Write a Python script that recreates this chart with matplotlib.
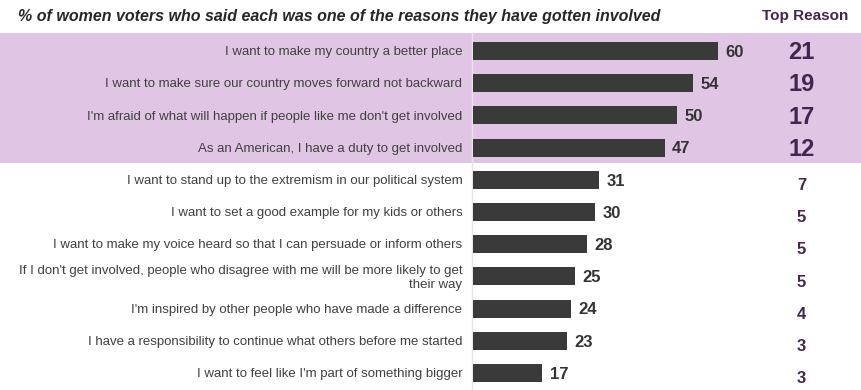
import matplotlib
matplotlib.use('Agg')
import matplotlib.pyplot as plt

plt.rcParams['font.family'] = ['Liberation Sans', 'DejaVu Sans']

reasons = [
    "I want to make my country a better place",
    "I want to make sure our country moves forward not backward",
    "I'm afraid of what will happen if people like me don't get involved",
    "As an American, I have a duty to get involved",
    "I want to stand up to the extremism in our political system",
    "I want to set a good example for my kids or others",
    "I want to make my voice heard so that I can persuade or inform others",
    "If I don't get involved, people who disagree with me will be more likely to get\ntheir way",
    "I'm inspired by other people who have made a difference",
    "I have a responsibility to continue what others before me started",
    "I want to feel like I'm part of something bigger",
]
pct_any = [60, 54, 50, 47, 31, 30, 28, 25, 24, 23, 17]
pct_top = [21, 19, 17, 12, 7, 5, 5, 5, 4, 3, 3]
n_highlight = 4

BAR = '#3a3a3a'
BAND = '#e0c6e4'
PURPLE = '#43264d'
TXT = '#404040'

W, H = 861, 390
fig = plt.figure(figsize=(W / 100, H / 100), dpi=100)

# pixel geometry of the layout
x0_px, px_per_unit = 473, 4.08
row0_px, row_step = 51, 32.2
ax = fig.add_axes([0, 0, 1, 1])
ax.set_xlim(-x0_px / px_per_unit, (W - x0_px) / px_per_unit)
ax.set_ylim((H - row0_px) / row_step, -row0_px / row_step)
ax.axis('off')

rows = list(range(len(reasons)))
band_top = -0.56
ax.axhspan(band_top, n_highlight - 0.52, color=BAND, zorder=0, lw=0)
ax.plot([-0.3, -0.3], [band_top, ax.get_ylim()[0]], color='#e6e6e6', lw=1, zorder=1)

ax.barh(rows, pct_any, height=0.56, color=BAR, zorder=2)

for i, (lab, v, t) in enumerate(zip(reasons, pct_any, pct_top)):
    ax.text(-2.6, i + 0.04, lab, ha='right', va='center', fontsize=9.5, color=TXT,
            linespacing=1.2)
    ax.text(v + 1.8, i + 0.04, str(v), ha='left', va='center', fontsize=12,
            fontweight='bold', color='#333333')
    big = i < n_highlight
    ax.text(80.5, i + (0.05 if big else 0.18), str(t), ha='center', va='center',
            fontsize=17 if big else 12, fontweight='bold', color=PURPLE)

fig.text(18 / W, 1 - 16 / H,
         "% of women voters who said each was one of the reasons they have gotten involved",
         ha='left', va='center', fontsize=11.5, fontweight='bold', style='italic',
         color='#262626')
fig.text(805 / W, 1 - 16 / H, "Top Reason", ha='center', va='center',
         fontsize=11, fontweight='bold', color=PURPLE)

fig.savefig('out.png', dpi=100)
